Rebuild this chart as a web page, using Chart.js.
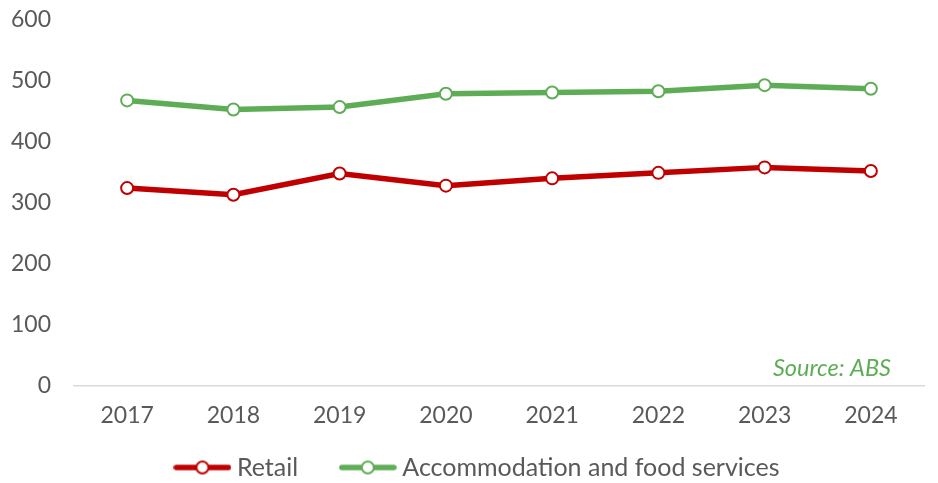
<!DOCTYPE html>
<html>
<head>
<meta charset="utf-8">
<script src="https://cdn.jsdelivr.net/npm/chart.js@4"></script>
<style>
html,body{margin:0;padding:0;background:#fff;}
#wrap{width:938px;height:483px;position:relative;}
</style>
</head>
<body>
<div id="wrap"><canvas id="c"></canvas></div>
<script>
const categories = ["2017","2018","2019","2020","2021","2022","2023","2024"];
const retail = [324, 313, 348, 328, 340, 349, 358, 352];
const accommodation = [468, 453, 457, 479, 481, 483, 493, 487];
const seriesNames = ["Retail", "Accommodation and food services"];
const yTicks = [0, 100, 200, 300, 400, 500, 600];
const sourceText = "Source: ABS";

const RED = "#C00000";
const GREEN = "#5EAD56";
const FONT = "Lato, 'Open Sans', sans-serif";
const TEXT = "#595959";
const FS = 23;
const LFS = 25;

function legendIcon(color){
  const cv = document.createElement('canvas');
  cv.width = 58; cv.height = 18;
  const g = cv.getContext('2d');
  g.strokeStyle = color; g.lineWidth = 5.5; g.lineCap = 'round';
  g.beginPath(); g.moveTo(3, 9); g.lineTo(55, 9); g.stroke();
  g.fillStyle = '#fff'; g.lineWidth = 2;
  g.beginPath(); g.arc(29, 9, 6, 0, Math.PI*2); g.fill(); g.stroke();
  return cv;
}

const sourcePlugin = {
  id: 'sourceNote',
  afterDraw(chart){
    const {ctx, chartArea} = chart;
    ctx.save();
    ctx.font = "italic 23.5px " + FONT;
    ctx.fillStyle = GREEN;
    ctx.textAlign = 'right';
    ctx.textBaseline = 'middle';
    ctx.fillText(sourceText, chartArea.right - 33, chartArea.bottom - 17);
    ctx.restore();
  }
};

// centre the legend on the canvas as in the reference
const legendShift = {
  id: 'legendShift',
  afterLayout(chart){
    if (chart.legend) { chart.legend.left += 24; chart.legend.right += 24; }
  }
};

// gap after the first legend entry, as in the reference
const legendGap = ["\u2003\u2002 ", ""];

new Chart(document.getElementById('c'), {
  type: 'line',
  data: {
    labels: categories,
    datasets: [
      { label: seriesNames[0], data: retail, borderColor: RED, backgroundColor: '#fff',
        borderWidth: 5.5, pointRadius: 6, pointHoverRadius: 6, pointBorderWidth: 2,
        pointBorderColor: RED, pointBackgroundColor: '#fff', tension: 0,
        pointStyle: 'circle' },
      { label: seriesNames[1], data: accommodation, borderColor: GREEN, backgroundColor: '#fff',
        borderWidth: 5.5, pointRadius: 6, pointHoverRadius: 6, pointBorderWidth: 2,
        pointBorderColor: GREEN, pointBackgroundColor: '#fff', tension: 0,
        pointStyle: 'circle' }
    ]
  },
  options: {
    responsive: true,
    maintainAspectRatio: false,
    animation: false,
    layout: { autoPadding: false, padding: { top: 20, right: 14, left: -12, bottom: -7 } },
    plugins: {
      tooltip: { enabled: false },
      legend: {
        position: 'bottom',
        labels: {
          usePointStyle: true,
          pointStyleWidth: 44,
          font: { family: FONT, size: LFS },
          color: TEXT,
          padding: 10,
          generateLabels(chart){
            return chart.data.datasets.map((ds, i) => ({
              text: ds.label + legendGap[i],
              pointStyle: legendIcon(ds.borderColor),
              fillStyle: '#fff',
              strokeStyle: ds.borderColor,
              lineWidth: 0,
              hidden: false,
              datasetIndex: i,
              fontColor: TEXT
            }));
          }
        }
      }
    },
    scales: {
      x: {
        offset: true,
        grid: { display: false, drawTicks: false },
        border: { display: true, color: '#D9D9D9', width: 1.5 },
        ticks: { font: { family: FONT, size: FS }, color: TEXT, padding: 16 }
      },
      y: {
        min: 0, max: 600,
        afterBuildTicks(scale){ scale.ticks = yTicks.map(v => ({ value: v })); },
        afterFit(scale){ scale.paddingTop = 0; scale.paddingBottom = 0; },
        grid: { display: false, drawTicks: false },
        border: { display: false },
        ticks: { font: { family: FONT, size: FS }, color: TEXT, padding: 23 }
      }
    }
  },
  plugins: [sourcePlugin, legendShift]
});
</script>
</body>
</html>
